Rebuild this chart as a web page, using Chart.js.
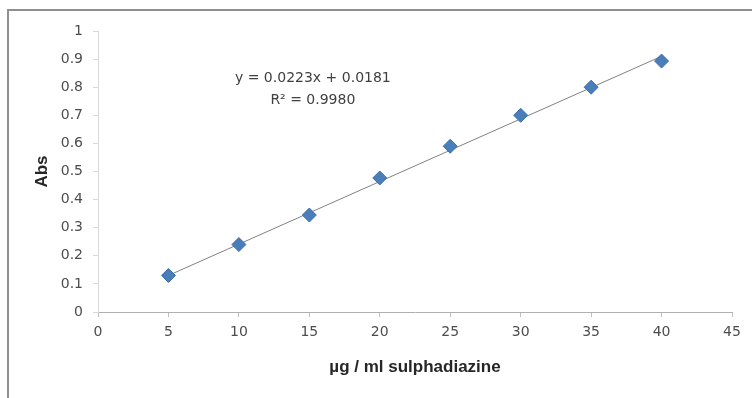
<!DOCTYPE html>
<html>
<head>
<meta charset="utf-8">
<script src="https://cdn.jsdelivr.net/npm/chart.js@4/dist/chart.umd.min.js"></script>
<style>
html,body{margin:0;padding:0;background:#fff;}
#wrap{width:752px;height:398px;position:relative;}
</style>
</head>
<body>
<div id="wrap"><canvas id="c" width="752" height="398"></canvas></div>
<script>
const concentrations = [5, 10, 15, 20, 25, 30, 35, 40];
const absorbance = [0.13, 0.24, 0.345, 0.477, 0.59, 0.70, 0.80, 0.893];
const trendX = [5, 40];
const trendY = [0.13, 0.91];
const equationLines = ['y = 0.0223x + 0.0181', 'R² = 0.9980'];
const xTitle = 'µg / ml sulphadiazine';
const yTitle = 'Abs';

const tickFont = {size: 14, family: '"DejaVu Sans", sans-serif'};
const titleFont = {size: 17, weight: 'bold', family: '"Liberation Sans", Arial, sans-serif'};

const frame = {
  id: 'frame',
  beforeDraw(chart) {
    const ctx = chart.ctx;
    ctx.save();
    ctx.strokeStyle = '#8f8f8f';
    ctx.lineWidth = 2;
    ctx.beginPath();
    ctx.moveTo(8, 420);
    ctx.lineTo(8, 10);
    ctx.lineTo(770, 10);
    ctx.stroke();
    ctx.restore();
  }
};
const eqn = {
  id: 'eqn',
  afterDraw(chart) {
    const ctx = chart.ctx;
    const x = chart.scales.x.getPixelForValue(15.25);
    const y = chart.scales.y.getPixelForValue(0.83);
    ctx.save();
    ctx.fillStyle = '#404040';
    ctx.font = '14px "DejaVu Sans", sans-serif';
    ctx.textAlign = 'center';
    ctx.textBaseline = 'middle';
    ctx.fillText(equationLines[0], x, y);
    ctx.fillText(equationLines[1], x, y + 22);
    ctx.restore();
  }
};

new Chart(document.getElementById('c'), {
  type: 'scatter',
  data: {
    datasets: [
      {
        label: 'Abs',
        data: concentrations.map((c, i) => ({x: c, y: absorbance[i]})),
        pointStyle: 'rectRot',
        pointRadius: 7,
        pointHoverRadius: 7,
        backgroundColor: '#4a7ebb',
        borderColor: '#3d6ea8',
        borderWidth: 1,
        showLine: false,
        order: 0
      },
      {
        label: 'Linear',
        data: trendX.map((c, i) => ({x: c, y: trendY[i]})),
        showLine: true,
        pointRadius: 0,
        borderColor: '#808080',
        borderWidth: 1,
        order: 1
      }
    ]
  },
  options: {
    responsive: false,
    animation: false,
    layout: {padding: {left: 30, top: 31, right: 20, bottom: 16}},
    plugins: {legend: {display: false}, tooltip: {enabled: false}},
    scales: {
      x: {
        type: 'linear', min: 0, max: 45,
        ticks: {stepSize: 5, color: '#4d4d4d', font: tickFont, padding: 7},
        grid: {drawOnChartArea: false, tickLength: 5, color: '#bfbfbf'},
        border: {color: '#b0b0b0'},
        title: {display: true, text: xTitle, color: '#262626', font: titleFont, padding: {top: 8, bottom: 4}},
        afterFit(s) { s.height = 398 - 312 - 16; }
      },
      y: {
        type: 'linear', min: 0, max: 1,
        ticks: {stepSize: 0.1, color: '#4d4d4d', font: tickFont, padding: 10,
          callback: v => String(Math.round(v * 10) / 10)},
        grid: {drawOnChartArea: false, tickLength: 5, color: '#d9d9d9'},
        border: {color: '#d9d9d9'},
        title: {display: true, text: yTitle, color: '#262626', font: titleFont, padding: 2},
        afterFit(s) { s.width = 98 - 30; }
      }
    }
  },
  plugins: [frame, eqn]
});
</script>
</body>
</html>
